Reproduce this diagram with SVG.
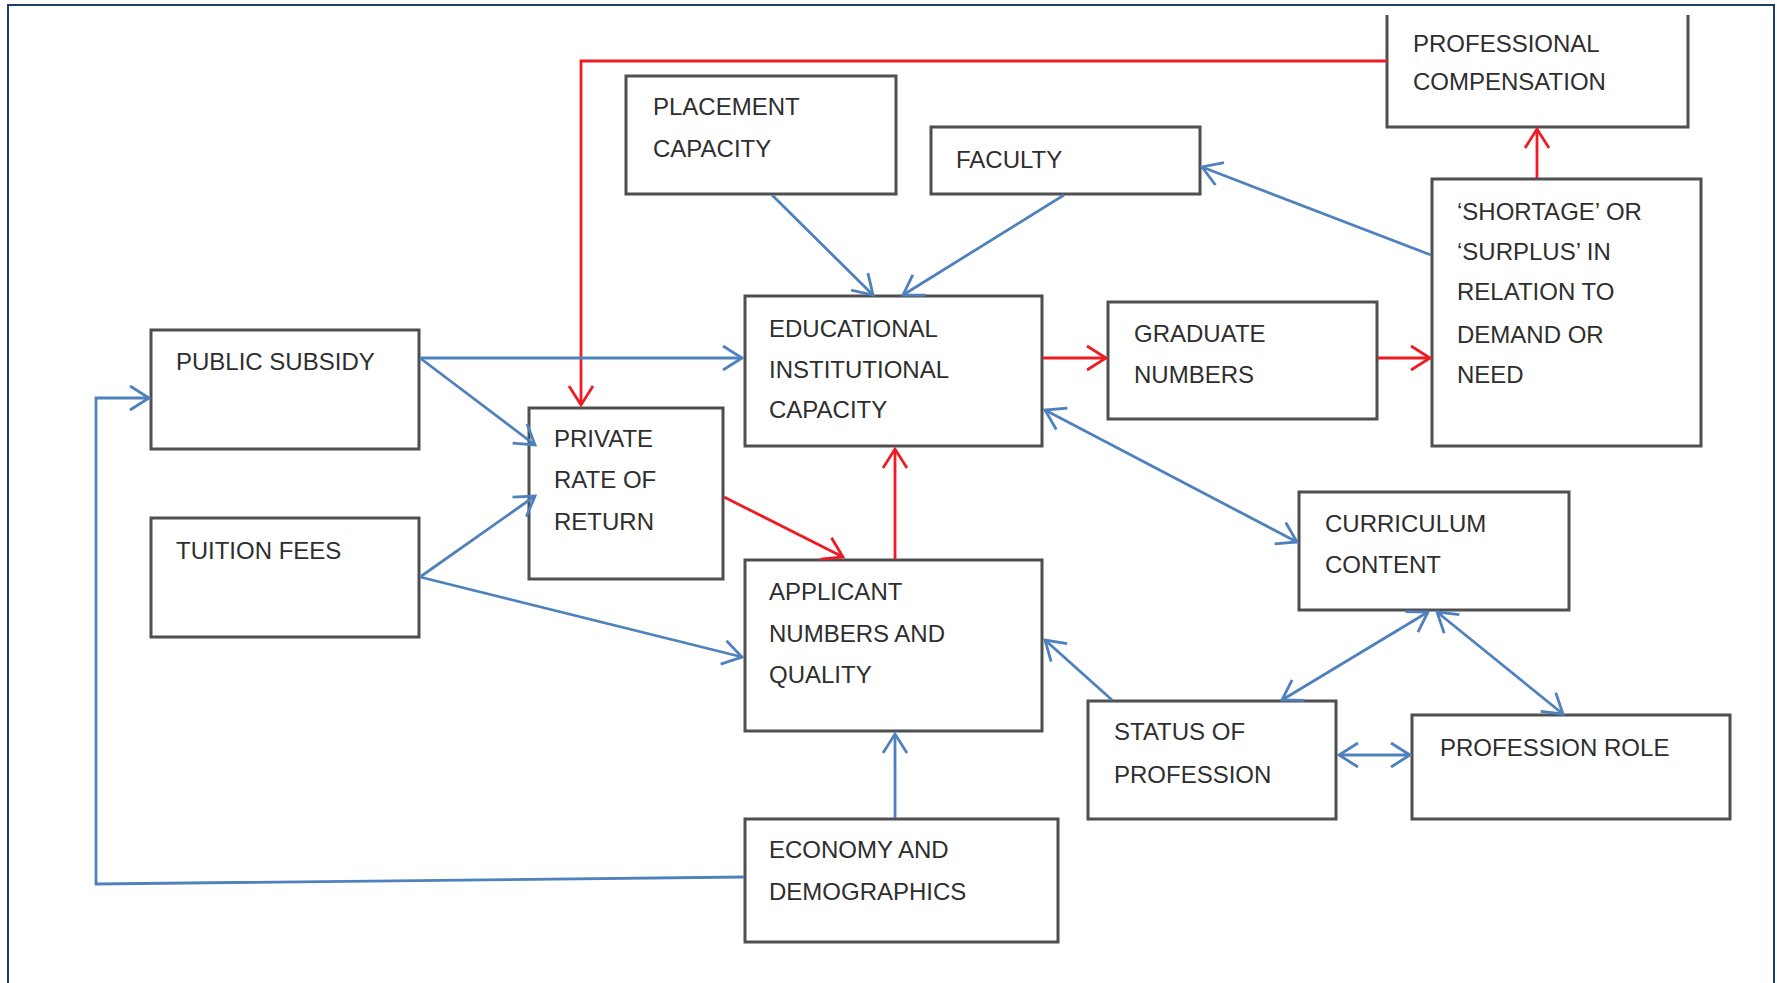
<svg xmlns="http://www.w3.org/2000/svg" width="1777" height="983" viewBox="0 0 1777 983">
<style>
.box{fill:#fff;stroke:#4f4f4f;stroke-width:3}
.t{font-family:"Liberation Sans",Arial,sans-serif;font-size:24px;fill:#2e2e2e}
.b{fill:none;stroke:#4f81bd;stroke-width:2.8}
.r{fill:none;stroke:#ed1c24;stroke-width:2.8}
</style>
<defs>
<marker id="ab" markerUnits="userSpaceOnUse" markerWidth="30" markerHeight="30" refX="0" refY="0" viewBox="-24 -15 28 30" orient="auto-start-reverse">
<path d="M-19,-12 L0,0 L-19,12" fill="none" stroke="#4f81bd" stroke-width="2.8"/>
</marker>
<marker id="ar" markerUnits="userSpaceOnUse" markerWidth="30" markerHeight="30" refX="0" refY="0" viewBox="-24 -15 28 30" orient="auto-start-reverse">
<path d="M-19,-12 L0,0 L-19,12" fill="none" stroke="#ed1c24" stroke-width="2.8"/>
</marker>
</defs>
<rect x="0" y="0" width="1777" height="983" fill="#fff"/>
<rect x="8" y="5" width="1766" height="1000" fill="none" stroke="#1f3d6b" stroke-width="2"/>

<g id="professional-compensation">
<path d="M1387,15 V127 H1688 V15" fill="#fff" stroke="#4f4f4f" stroke-width="3"/>
<text class="t" x="1413" y="52">PROFESSIONAL</text>
<text class="t" x="1413" y="90">COMPENSATION</text>
</g>
<g id="placement-capacity">
<rect class="box" x="626" y="76" width="270" height="118"/>
<text class="t" x="653" y="115">PLACEMENT</text>
<text class="t" x="653" y="157">CAPACITY</text>
</g>
<g id="faculty">
<rect class="box" x="931" y="127" width="269" height="67"/>
<text class="t" x="956" y="168">FACULTY</text>
</g>
<g id="shortage-surplus">
<rect class="box" x="1432" y="179" width="269" height="267"/>
<text class="t" x="1457" y="220">‘SHORTAGE’ OR</text>
<text class="t" x="1457" y="260">‘SURPLUS’ IN</text>
<text class="t" x="1457" y="300">RELATION TO</text>
<text class="t" x="1457" y="343">DEMAND OR</text>
<text class="t" x="1457" y="383">NEED</text>
</g>
<g id="public-subsidy">
<rect class="box" x="151" y="330" width="268" height="119"/>
<text class="t" x="176" y="370">PUBLIC SUBSIDY</text>
</g>
<g id="educational-institutional-capacity">
<rect class="box" x="745" y="296" width="297" height="150"/>
<text class="t" x="769" y="337">EDUCATIONAL</text>
<text class="t" x="769" y="378">INSTITUTIONAL</text>
<text class="t" x="769" y="418">CAPACITY</text>
</g>
<g id="graduate-numbers">
<rect class="box" x="1108" y="302" width="269" height="117"/>
<text class="t" x="1134" y="342">GRADUATE</text>
<text class="t" x="1134" y="383">NUMBERS</text>
</g>
<g id="private-rate-of-return">
<rect class="box" x="529" y="408" width="194" height="171"/>
<text class="t" x="554" y="447">PRIVATE</text>
<text class="t" x="554" y="488">RATE OF</text>
<text class="t" x="554" y="530">RETURN</text>
</g>
<g id="tuition-fees">
<rect class="box" x="151" y="518" width="268" height="119"/>
<text class="t" x="176" y="559">TUITION FEES</text>
</g>
<g id="applicant-numbers">
<rect class="box" x="745" y="560" width="297" height="171"/>
<text class="t" x="769" y="600">APPLICANT</text>
<text class="t" x="769" y="642">NUMBERS AND</text>
<text class="t" x="769" y="683">QUALITY</text>
</g>
<g id="curriculum-content">
<rect class="box" x="1299" y="492" width="270" height="118"/>
<text class="t" x="1325" y="532">CURRICULUM</text>
<text class="t" x="1325" y="573">CONTENT</text>
</g>
<g id="status-of-profession">
<rect class="box" x="1088" y="701" width="248" height="118"/>
<text class="t" x="1114" y="740">STATUS OF</text>
<text class="t" x="1114" y="783">PROFESSION</text>
</g>
<g id="profession-role">
<rect class="box" x="1412" y="715" width="318" height="104"/>
<text class="t" x="1440" y="756">PROFESSION ROLE</text>
</g>
<g id="economy-demographics">
<rect class="box" x="745" y="819" width="313" height="123"/>
<text class="t" x="769" y="858">ECONOMY AND</text>
<text class="t" x="769" y="900">DEMOGRAPHICS</text>
</g>

<g id="connectors">
<path class="r" d="M1387,61 H581 V405" marker-end="url(#ar)"/>
<path class="r" d="M1537,178 V129" marker-end="url(#ar)"/>
<path class="r" d="M1043,358 H1106" marker-end="url(#ar)"/>
<path class="r" d="M1378,358 H1430" marker-end="url(#ar)"/>
<path class="r" d="M724,497 L843,557" marker-end="url(#ar)"/>
<path class="r" d="M895,559 V449" marker-end="url(#ar)"/>
<path class="b" d="M772,195 L873,295" marker-end="url(#ab)"/>
<path class="b" d="M1064,195 L903,295" marker-end="url(#ab)"/>
<path class="b" d="M1431,255 L1202,167" marker-end="url(#ab)"/>
<path class="b" d="M420,358 H742" marker-end="url(#ab)"/>
<path class="b" d="M420,358 L535,445" marker-end="url(#ab)"/>
<path class="b" d="M420,577 L535,496" marker-end="url(#ab)"/>
<path class="b" d="M420,577 L742,657" marker-end="url(#ab)"/>
<path class="b" d="M1045,410 L1297,542" marker-start="url(#ab)" marker-end="url(#ab)"/>
<path class="b" d="M1112,700 L1045,640" marker-end="url(#ab)"/>
<path class="b" d="M1428,612 L1282,700" marker-start="url(#ab)" marker-end="url(#ab)"/>
<path class="b" d="M1437,612 L1563,714" marker-start="url(#ab)" marker-end="url(#ab)"/>
<path class="b" d="M1339,755 H1410" marker-start="url(#ab)" marker-end="url(#ab)"/>
<path class="b" d="M895,818 V734" marker-end="url(#ab)"/>
<path class="b" d="M744,877 L96,884 V398 H149" marker-end="url(#ab)"/>
</g>
</svg>
